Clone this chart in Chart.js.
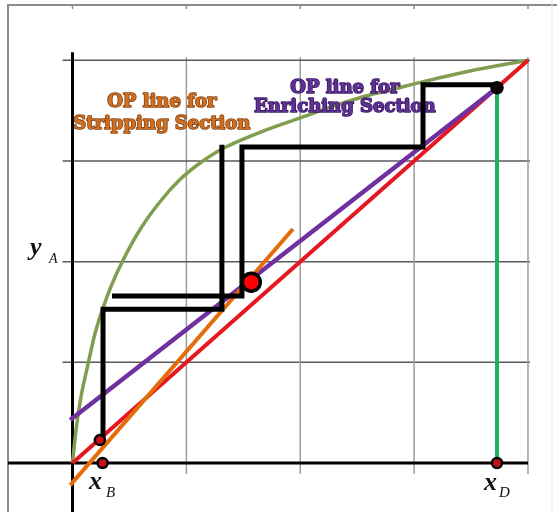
<!DOCTYPE html>
<html>
<head>
<meta charset="utf-8">
<script src="https://cdn.jsdelivr.net/npm/chart.js@4"></script>
<style>
  html, body { margin: 0; padding: 0; background: #fff; }
  #wrap { width: 557px; height: 512px; }
</style>
</head>
<body>
<div id="wrap"><canvas id="graficoMT"></canvas></div>
<script>
// Diagrama de McCabe-Thiele: curva de equilibrio, diagonal, líneas de operación y escalones

// Marcas de la rejilla (fracción molar)
const gridTicks = [0.25, 0.5, 0.75, 1];

// Curva de equilibrio (leída a mano)
const eqX = [0, 0.007, 0.0175, 0.033, 0.05, 0.066, 0.085, 0.112, 0.149, 0.193, 0.237, 0.28, 0.325, 0.37, 0.42, 0.5, 0.57, 0.64, 0.71, 0.77, 0.87, 1];
const eqY = [0, 0.075, 0.157, 0.24, 0.324, 0.382, 0.44, 0.506, 0.581, 0.65, 0.705, 0.745, 0.778, 0.802, 0.825, 0.857, 0.885, 0.91, 0.93, 0.947, 0.973, 1];

// Diagonal y = x
const diagX = [0, 1];
const diagY = [0, 1];

// Línea de operación, sección de enriquecimiento
const enrX = [-0.005, 0.932];
const enrY = [0.107, 0.932];

// Línea de operación, sección de agotamiento
const stripX = [-0.005, 0.484];
const stripY = [-0.055, 0.581];

// Composiciones de fondo y destilado
const xB = 0.06;
const xD = 0.932;

// Escalones desde el fondo
const stepsAX = [0.067, 0.067, 0.328, 0.328];
const stepsAY = [0.057, 0.382, 0.382, 0.79];

// Escalones desde el destilado
const stepsBX = [0.932, 0.7695, 0.7695, 0.372, 0.372, 0.0867];
const stepsBY = [0.939, 0.939, 0.785, 0.785, 0.415, 0.415];

// Punto de alimentación (cruce de las líneas de operación)
const feedX = [0.3925];
const feedY = [0.449];

function pares(xs, ys) {
    return xs.map((v, i) => ({ x: v, y: ys[i] }));
}

function linea(label, xs, ys, color, ancho, extra) {
    return Object.assign({
        label: label,
        data: pares(xs, ys),
        showLine: true,
        borderColor: color,
        borderWidth: ancho,
        pointRadius: 0,
        fill: false,
        borderJoinStyle: 'miter',
        borderCapStyle: 'butt'
    }, extra || {});
}

function punto(label, xs, ys, relleno, radio, borde) {
    return {
        label: label,
        data: pares(xs, ys),
        showLine: false,
        pointRadius: radio,
        pointBackgroundColor: relleno,
        pointBorderColor: '#000',
        pointBorderWidth: borde
    };
}

// de atrás hacia delante
const capas = [
    linea('equilibrio', eqX, eqY, '#819d50', 3.5, { cubicInterpolationMode: 'monotone' }),
    linea('diagonal', diagX, diagY, '#e5171f', 4),
    linea('enriquecimiento', enrX, enrY, '#7030a0', 4.5),
    linea('agotamiento', stripX, stripY, '#e46c0a', 4),
    linea('xD', [xD, xD], [xD, 0], '#1db25c', 4),
    linea('escalonesA', stepsAX, stepsAY, '#000', 5),
    linea('escalonesB', stepsBX, stepsBY, '#000', 5),
    punto('xB diag', [xB], [0.057], '#c8101c', 5, 2.5),
    punto('xB eje', [0.066], [0], '#c8101c', 5, 2.5),
    punto('xD diag', [xD], [xD], '#140404', 5.5, 2.5),
    punto('xD eje', [xD], [0], '#c8101c', 5, 2.5),
    punto('alimentación', feedX, feedY, '#ff0000', 9, 3.5)
];
capas.forEach((d, i) => { d.order = capas.length - i; });

// Rótulo grueso con borde oscuro
function texto(ctx, t, x, y, color, borde) {
    ctx.save();
    ctx.lineJoin = 'round';
    ctx.lineWidth = 1.6;
    ctx.strokeStyle = borde;
    ctx.strokeText(t, x, y);
    ctx.fillStyle = color;
    ctx.fillText(t, x, y);
    ctx.restore();
}

// Rejilla, marco y ejes
const marcoPlugin = {
    id: 'marco',
    beforeDatasetsDraw(chart) {
        const { ctx, scales: { x, y } } = chart;
        const x0 = x.getPixelForValue(0), x1 = x.getPixelForValue(1);
        const y0 = y.getPixelForValue(0), y1 = y.getPixelForValue(1);
        const W = chart.width, H = chart.height;
        const seg = (a, b, c, d) => { ctx.beginPath(); ctx.moveTo(a, b); ctx.lineTo(c, d); ctx.stroke(); };
        ctx.save();
        // marco exterior
        ctx.strokeStyle = '#8c8c8c';
        ctx.lineWidth = 2;
        seg(8, H, 8, 5);
        seg(7, 5, W, 5);
        ctx.lineWidth = 1.5;
        gridTicks.concat([0]).forEach(v => {
            const px = x.getPixelForValue(v);
            seg(px, 5, px, 9);
        });
        ctx.strokeStyle = '#e4e4e4';
        ctx.lineWidth = 1;
        seg(552, 0, 552, H);
        // rejilla
        gridTicks.forEach(v => {
            const px = x.getPixelForValue(v);
            ctx.strokeStyle = '#9c9c9c';
            ctx.lineWidth = 1.5;
            seg(px, y1 - 3, px, y0 + 11);
            const py = y.getPixelForValue(v);
            ctx.strokeStyle = '#5a5a5a';
            seg(x0 - 10, py, x1 + 2, py);
        });
        // ejes
        ctx.strokeStyle = '#000';
        ctx.lineWidth = 3;
        seg(x0, y1 - 8, x0, H);
        seg(8, y0, x1, y0);
        ctx.restore();
    },
    afterDatasetDraw(chart, args) {
        if (chart.data.datasets[args.index].label !== 'xD') return;
        const { ctx, scales: { x, y } } = chart;
        ctx.save();
        ctx.textAlign = 'center';
        ctx.textBaseline = 'alphabetic';
        ctx.font = 'bold 18px "DejaVu Serif"';
        texto(ctx, 'OP line for', x.getPixelForValue(0.196), y.getPixelForValue(0.884), '#cf6f22', '#8a4410');
        texto(ctx, 'Stripping Section', x.getPixelForValue(0.196), y.getPixelForValue(0.83), '#cf6f22', '#8a4410');
        texto(ctx, 'OP line for', x.getPixelForValue(0.598), y.getPixelForValue(0.92), '#5e3292', '#3a1664');
        texto(ctx, 'Enriching Section', x.getPixelForValue(0.598), y.getPixelForValue(0.871), '#5e3292', '#3a1664');
        ctx.restore();
    },
    afterDraw(chart) {
        const { ctx } = chart;
        ctx.save();
        ctx.fillStyle = '#111';
        ctx.textAlign = 'left';
        ctx.textBaseline = 'alphabetic';
        // y_A
        ctx.font = 'bold italic 26px "Liberation Serif"';
        ctx.fillText('y', 30, 255);
        ctx.font = 'italic 14px "Liberation Serif"';
        ctx.fillText('A', 49, 263);
        // x_B
        ctx.font = 'bold italic 26px "Liberation Serif"';
        ctx.fillText('x', 89, 489);
        ctx.font = 'italic 15px "Liberation Serif"';
        ctx.fillText('B', 106, 497);
        // x_D
        ctx.font = 'bold italic 26px "Liberation Serif"';
        ctx.fillText('x', 484, 490);
        ctx.font = 'italic 15px "Liberation Serif"';
        ctx.fillText('D', 499, 497);
        ctx.restore();
    }
};

new Chart(document.getElementById('graficoMT'), {
    type: 'scatter',
    data: { datasets: capas },
    options: {
        responsive: true,
        maintainAspectRatio: false,
        animation: false,
        layout: { padding: 0, autoPadding: false },
        plugins: {
            legend: { display: false },
            tooltip: { enabled: false }
        },
        scales: {
            x: { type: 'linear', display: false, min: -0.15917, max: 1.06367 },
            y: { type: 'linear', display: false, min: -0.12168, max: 1.14974 }
        }
    },
    plugins: [marcoPlugin]
});
</script>
</body>
</html>
